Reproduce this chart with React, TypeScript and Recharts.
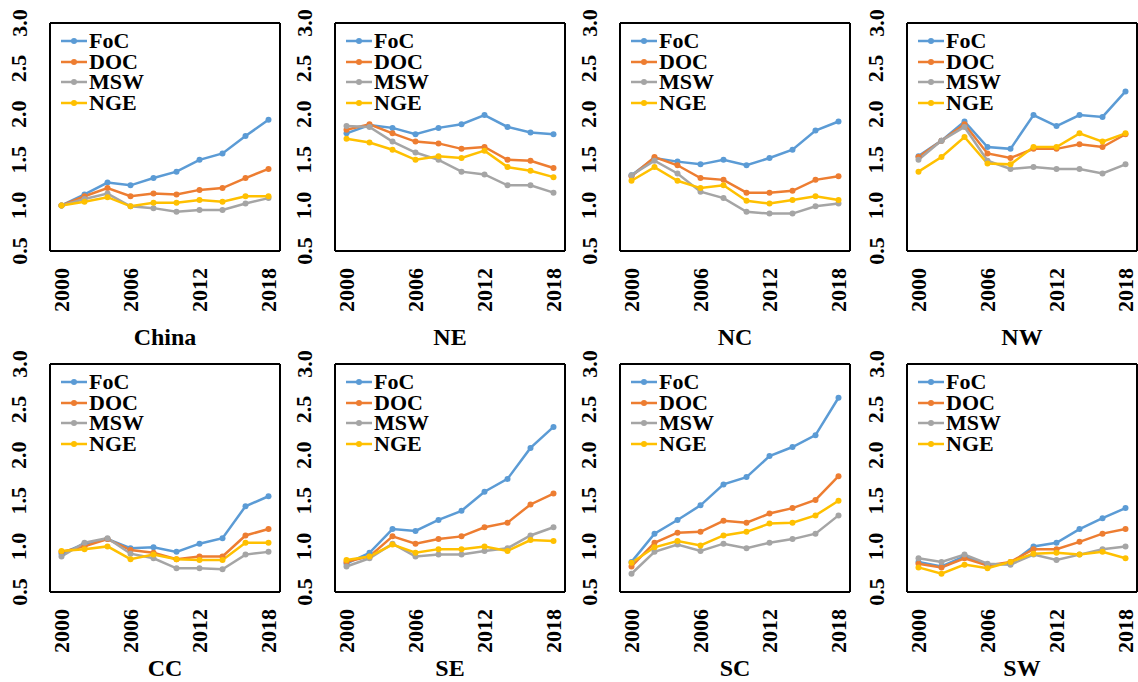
import React from 'react';
import { LineChart, Line, XAxis, YAxis, Legend, Label, ReferenceLine } from 'recharts';

const YEARS = [2000, 2002, 2004, 2006, 2008, 2010, 2012, 2014, 2016, 2018];
const X_TICKS = [2000, 2006, 2012, 2018];
const Y_TICKS = [0.5, 1.0, 1.5, 2.0, 2.5, 3.0];
const X_DOMAIN = [1999, 2019];
const Y_DOMAIN = [0.5, 3.0];
const SERIES_NAMES = ['FoC', 'DOC', 'MSW', 'NGE'];
const SERIES_COLORS = ['#5B9BD5', '#ED7D31', '#A5A5A5', '#FFC000'];
const REGION_NAMES = ['China', 'NE', 'NC', 'NW', 'CC', 'SE', 'SC', 'SW'];

const CHINA_FOC = [1.0, 1.12, 1.25, 1.22, 1.3, 1.37, 1.5, 1.57, 1.76, 1.94];
const CHINA_DOC = [1.0, 1.1, 1.19, 1.1, 1.13, 1.12, 1.17, 1.19, 1.3, 1.4];
const CHINA_MSW = [1.0, 1.07, 1.13, 0.99, 0.97, 0.93, 0.95, 0.95, 1.02, 1.08];
const CHINA_NGE = [1.0, 1.04, 1.09, 0.99, 1.03, 1.03, 1.06, 1.04, 1.1, 1.1];

const NE_FOC = [1.79, 1.88, 1.85, 1.78, 1.85, 1.89, 1.99, 1.86, 1.8, 1.78];
const NE_DOC = [1.83, 1.89, 1.79, 1.7, 1.68, 1.62, 1.64, 1.5, 1.49, 1.41];
const NE_MSW = [1.87, 1.86, 1.7, 1.58, 1.5, 1.37, 1.34, 1.22, 1.22, 1.14];
const NE_NGE = [1.73, 1.69, 1.61, 1.5, 1.54, 1.52, 1.6, 1.42, 1.38, 1.31];

const NC_FOC = [1.33, 1.52, 1.48, 1.45, 1.5, 1.44, 1.52, 1.61, 1.82, 1.92];
const NC_DOC = [1.32, 1.53, 1.44, 1.3, 1.28, 1.14, 1.14, 1.16, 1.28, 1.32];
const NC_MSW = [1.33, 1.49, 1.35, 1.15, 1.08, 0.93, 0.91, 0.91, 0.99, 1.02];
const NC_NGE = [1.27, 1.42, 1.27, 1.19, 1.22, 1.05, 1.02, 1.06, 1.1, 1.06];

const NW_FOC = [1.54, 1.71, 1.92, 1.64, 1.62, 1.99, 1.87, 1.99, 1.97, 2.25];
const NW_DOC = [1.53, 1.71, 1.89, 1.57, 1.52, 1.62, 1.62, 1.67, 1.64, 1.78];
const NW_MSW = [1.5, 1.71, 1.86, 1.49, 1.4, 1.42, 1.4, 1.4, 1.35, 1.45];
const NW_NGE = [1.37, 1.53, 1.75, 1.46, 1.45, 1.64, 1.64, 1.79, 1.7, 1.79];

const CC_FOC = [0.92, 1.03, 1.08, 0.98, 0.99, 0.94, 1.03, 1.09, 1.44, 1.55];
const CC_DOC = [0.94, 1.0, 1.08, 0.96, 0.93, 0.86, 0.89, 0.89, 1.12, 1.19];
const CC_MSW = [0.89, 1.04, 1.09, 0.92, 0.87, 0.76, 0.76, 0.75, 0.91, 0.94];
const CC_NGE = [0.95, 0.97, 1.0, 0.86, 0.91, 0.86, 0.85, 0.85, 1.04, 1.04];

const SE_FOC = [0.81, 0.93, 1.19, 1.17, 1.29, 1.39, 1.6, 1.74, 2.08, 2.31];
const SE_DOC = [0.83, 0.89, 1.11, 1.03, 1.08, 1.11, 1.21, 1.26, 1.46, 1.58];
const SE_MSW = [0.78, 0.87, 1.03, 0.89, 0.91, 0.91, 0.95, 0.98, 1.12, 1.21];
const SE_NGE = [0.85, 0.89, 1.02, 0.93, 0.97, 0.97, 1.0, 0.95, 1.07, 1.06];

const SC_FOC = [0.83, 1.14, 1.29, 1.45, 1.68, 1.76, 1.99, 2.09, 2.22, 2.63];
const SC_DOC = [0.78, 1.04, 1.15, 1.16, 1.28, 1.26, 1.36, 1.42, 1.51, 1.77];
const SC_MSW = [0.7, 0.94, 1.02, 0.95, 1.03, 0.98, 1.04, 1.08, 1.14, 1.34];
const SC_NGE = [0.82, 0.99, 1.06, 1.01, 1.12, 1.16, 1.25, 1.26, 1.34, 1.5];

const SW_FOC = [0.83, 0.78, 0.89, 0.8, 0.81, 1.0, 1.04, 1.19, 1.31, 1.42];
const SW_DOC = [0.81, 0.77, 0.87, 0.79, 0.83, 0.97, 0.97, 1.05, 1.14, 1.19];
const SW_MSW = [0.87, 0.83, 0.91, 0.81, 0.8, 0.91, 0.85, 0.91, 0.97, 1.0];
const SW_NGE = [0.77, 0.7, 0.8, 0.76, 0.83, 0.92, 0.93, 0.91, 0.94, 0.87];

const REGION_SERIES = [
  [CHINA_FOC, CHINA_DOC, CHINA_MSW, CHINA_NGE],
  [NE_FOC, NE_DOC, NE_MSW, NE_NGE],
  [NC_FOC, NC_DOC, NC_MSW, NC_NGE],
  [NW_FOC, NW_DOC, NW_MSW, NW_NGE],
  [CC_FOC, CC_DOC, CC_MSW, CC_NGE],
  [SE_FOC, SE_DOC, SE_MSW, SE_NGE],
  [SC_FOC, SC_DOC, SC_MSW, SC_NGE],
  [SW_FOC, SW_DOC, SW_MSW, SW_NGE],
];

const FONT = "'Liberation Serif', 'Times New Roman', serif";

const YTick = (props: any) => {
  const { x, y, payload } = props;
  const cx = x - 31;
  return (
    <text x={cx} y={y} transform={`rotate(-90 ${cx} ${y})`} textAnchor="middle" dominantBaseline="central"
      style={{ fontFamily: FONT, fontWeight: 'bold', fontSize: 22, fill: '#000' }}>
      {Number(payload.value).toFixed(1)}
    </text>
  );
};

const XTick = (props: any) => {
  const { x, y, payload } = props;
  const ty = y + 17;
  return (
    <text x={x} y={ty} transform={`rotate(-90 ${x} ${ty})`} textAnchor="end" dominantBaseline="central"
      style={{ fontFamily: FONT, fontWeight: 'bold', fontSize: 22, fill: '#000' }}>
      {payload.value}
    </text>
  );
};

const LegendContent = (props: any) => {
  const items = [...(props.payload || [])].sort(
    (a: any, b: any) => SERIES_NAMES.indexOf(a.value) - SERIES_NAMES.indexOf(b.value)
  );
  return (
    <div style={{ fontFamily: FONT, fontWeight: 'bold', fontSize: 22, color: '#000' }}>
      {items.map((entry: any) => (
        <div key={entry.value} style={{ display: 'flex', alignItems: 'center', height: 20.5, lineHeight: '20px' }}>
          <svg width={26} height={10} style={{ marginRight: 2 }}>
            <line x1={0} y1={5} x2={26} y2={5} stroke={entry.color} strokeWidth={2.5} />
            <circle cx={13} cy={5} r={3} fill={entry.color} />
          </svg>
          <span>{entry.value}</span>
        </div>
      ))}
    </div>
  );
};

const PANEL_LEFTS = [0, 285, 570, 857];

const Panel = ({ index }: { index: number }) => {
  const series = REGION_SERIES[index];
  const data = YEARS.map((year, i) => {
    const row: any = { year };
    SERIES_NAMES.forEach((name, s) => {
      row[name] = series[s][i];
    });
    return row;
  });
  const row = Math.floor(index / 4);
  const col = index % 4;
  const height = row === 0 ? 350 : 341;
  const xAxisHeight = height - 23 - 228;
  const titleOffset = row === 0 ? 5 : 6;
  return (
    <div style={{ position: 'absolute', left: PANEL_LEFTS[col], top: row * 341, width: 281, height }}>
      <LineChart width={281} height={height} data={data} margin={{ top: 23, right: 1, bottom: 0, left: 0 }}>
        <XAxis dataKey="year" type="number" domain={X_DOMAIN} ticks={X_TICKS} interval={0}
          axisLine={false} tickLine={false} tickSize={0} tickMargin={0} height={xAxisHeight} tick={<XTick />}>
          <Label value={REGION_NAMES[index]} position="insideBottom" offset={titleOffset}
            style={{ fontFamily: FONT, fontWeight: 'bold', fontSize: 24, fill: '#000' }} />
        </XAxis>
        <YAxis type="number" domain={Y_DOMAIN} ticks={Y_TICKS} interval={0} width={50}
          axisLine={false} tickLine={false} tickSize={0} tickMargin={0} tick={<YTick />} />
        <ReferenceLine y={Y_DOMAIN[0]} stroke="#000000" strokeWidth={2} ifOverflow="visible" />
        <ReferenceLine y={Y_DOMAIN[1]} stroke="#000000" strokeWidth={2} ifOverflow="visible" />
        <ReferenceLine x={X_DOMAIN[0]} stroke="#000000" strokeWidth={2} ifOverflow="visible" />
        <ReferenceLine x={X_DOMAIN[1]} stroke="#000000" strokeWidth={2} ifOverflow="visible" />
        <Legend layout="vertical" align="center" verticalAlign="middle" content={<LegendContent />}
          wrapperStyle={{ left: 61, top: 31, width: 120, height: 90 }} />
        {SERIES_NAMES.map((name, s) => (
          <Line key={name} type="linear" dataKey={name} name={name} stroke={SERIES_COLORS[s]} strokeWidth={2.5}
            dot={{ r: 3, fill: SERIES_COLORS[s], stroke: SERIES_COLORS[s], strokeWidth: 0 }}
            activeDot={false} isAnimationActive={false} />
        ))}
      </LineChart>
    </div>
  );
}

export default function App() {
  return (
    <div style={{ position: 'absolute', left: 0, top: 0, width: 1138, height: 682, overflow: 'hidden', background: '#fff' }}>
      {REGION_NAMES.map((_, i) => (
        <Panel key={i} index={i} />
      ))}
    </div>
  );
}
